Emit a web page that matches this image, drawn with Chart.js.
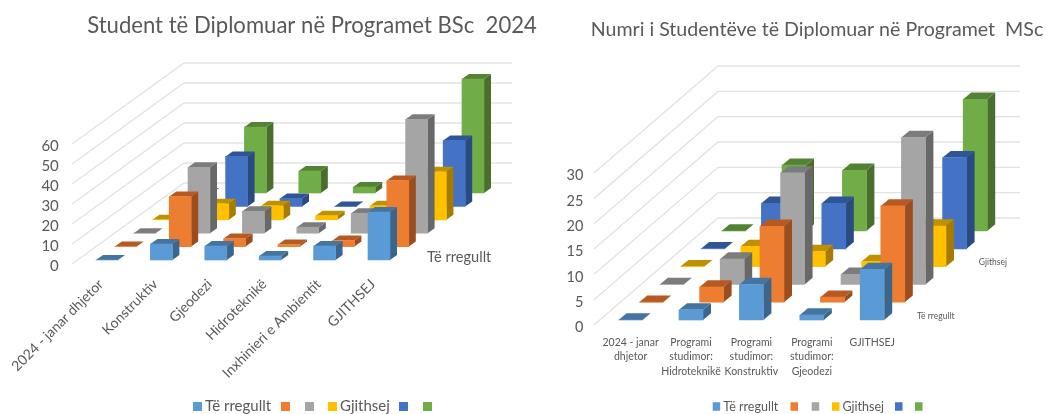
<!DOCTYPE html>
<html><head><meta charset="utf-8">
<style>
html,body{margin:0;padding:0;width:1046px;height:414px;overflow:hidden;background:#fff}
#wrapA,#wrapB{position:absolute;top:0}
</style>
<script src="https://cdn.jsdelivr.net/npm/chart.js@4/dist/chart.umd.min.js"></script>
</head><body>
<div id="wrapA" style="left:0;width:624px;height:414px"><canvas id="a"></canvas></div>
<div id="wrapB" style="left:540px;width:554px;height:414px"><canvas id="b"></canvas></div>
<script>
// Data
const seriesNames = ['Të rregullt','','','Gjithsej','',''];
const bscTitle = 'Student të Diplomuar në Programet BSc  2024';
const bscCategories = ['2024 - janar dhjetor','Konstruktiv','Gjeodezi','Hidroteknikë','Inxhinieri e Ambientit','GJITHSEJ'];
const bscS1 = [0,8,7,2,7,24];
const bscS2 = [0,25,4,1,3,33];
const bscS3 = [0,33,11,3,10,57];
const bscS4 = [0,8,7,2,7,24];
const bscS5 = [0,25,4,0,4,33];
const bscS6 = [0,33,11,3,10,57];
const bscTicks = {max:60, step:10};

const mscTitle = 'Numri i Studentëve të Diplomuar në Programet  MSc';
const mscCategoryLines = [['2024 - janar','dhjetor'],['Programi','studimor:','Hidroteknikë'],['Programi','studimor:','Konstruktiv'],['Programi','studimor:','Gjeodezi'],['GJITHSEJ']];
const mscS1 = [0,2,7,1,10];
const mscS2 = [0,3,15,1,19];
const mscS3 = [0,5,22,2,29];
const mscS4 = [0,4,3,1,8];
const mscS5 = [0,9,9,0,18];
const mscS6 = [0,13,12,1,26];
const mscTicks = {max:30, step:5};

const front = ['#5B9BD5','#ED7D31','#A5A5A5','#FFC000','#4472C4','#70AD47'];
const topC  = ['#44749F','#B65A22','#7C7C7C','#BF9000','#2F5597','#548235'];
const sideC = ['#3B668C','#9A4D1E','#686868','#A67C00','#2A4A82','#4A6E2D'];

const depth3D = {
  id:'depth3D',
  beforeDatasetsDraw(chart,args,o){
    const {ctx,scales:{y}} = chart;
    ctx.save();
    ctx.strokeStyle='#E3E3E3'; ctx.lineWidth=1.4;
    y.ticks.forEach(t=>{
      const py=y.getPixelForValue(t.value);
      ctx.beginPath();
      ctx.moveTo(o.wallX,py);
      ctx.lineTo(o.wallX+o.wallDx,py+o.wallDy);
      ctx.lineTo(o.wallRight,py+o.wallDy);
      ctx.stroke();
    });
    ctx.restore();
  },
  beforeDatasetDraw(chart,{index},o){
    const {ctx}=chart;
    ctx.save();
    ctx.translate(o.stepX*index, o.baseDy+o.stepY*index);
    chart.getDatasetMeta(index).data.forEach(b=>{
      const l=b.x-b.width/2, r=b.x+b.width/2;
      ctx.fillStyle=sideC[index];
      ctx.beginPath();
      ctx.moveTo(r,b.y);ctx.lineTo(r+o.sideX,b.y+o.sideY);
      ctx.lineTo(r+o.sideX,b.base+o.sideY);ctx.lineTo(r,b.base);
      ctx.closePath();ctx.fill();
      ctx.fillStyle=topC[index];
      ctx.beginPath();
      ctx.moveTo(l,b.y);ctx.lineTo(l+o.sideX,b.y+o.sideY);
      ctx.lineTo(r+o.sideX,b.y+o.sideY);ctx.lineTo(r,b.y);
      ctx.closePath();ctx.fill();
    });
  },
  afterDatasetDraw(chart){ chart.ctx.restore(); },
  afterDraw(chart,args,o){
    const {ctx}=chart;
    ctx.save();
    ctx.fillStyle='#595959';
    ctx.font=o.labelFont;
    ctx.textBaseline='middle';
    ctx.textAlign='left';
    o.depthLabels.forEach(i=>{
      ctx.fillText(seriesNames[i], o.labelX+o.stepX*i, o.labelY+o.stepY*i);
    });
    // legend keyed to the datasets
    chart.data.datasets.forEach((d,i)=>{
      const x=o.legendX[i];
      ctx.fillStyle=d.backgroundColor;
      ctx.fillRect(x,o.legendY-o.legendH/2,o.legendW,o.legendH);
      if(d.label){
        ctx.fillStyle='#595959';
        ctx.font=o.legendFont;
        ctx.fillText(d.label,x+o.legendW+o.legendGap,o.legendY);
      }
    });
    ctx.restore();
  }
};

function make(id,title,titleFont,titlePad,cats,rows,ticks,barW,cfg){
  return new Chart(document.getElementById(id),{
    type:'bar',
    plugins:[depth3D],
    data:{labels:cats,datasets:rows.map((r,i)=>({label:seriesNames[i],data:r,backgroundColor:front[i],borderWidth:0,clip:false}))},
    options:{
      responsive:true,maintainAspectRatio:false,animation:false,
      layout:{padding:0},
      datasets:{bar:{grouped:false,barThickness:barW}},
      plugins:{
        tooltip:{enabled:false},
        legend:{display:false},
        title:{display:true,text:title,color:'#595959',font:titleFont,padding:titlePad},
        depth3D:cfg.depth
      },
      scales:{
        x:{grid:{display:false,drawTicks:false},border:{display:false},
           ticks:{color:'#595959',font:cfg.xFont,autoSkip:false,padding:cfg.xPad,labelOffset:cfg.xShift,minRotation:cfg.rot,maxRotation:cfg.rot},
           afterFit(s){s.height=cfg.plotBottomGap;s.paddingLeft=0;s.paddingRight=0;}},
        y:{min:0,max:ticks.max,grid:{display:false,drawTicks:false},border:{display:false},
           ticks:{stepSize:ticks.step,autoSkip:false,color:'#595959',font:cfg.yFont,padding:cfg.yPad,labelOffset:cfg.yShift},
           afterFit(s){s.width=cfg.yWidth;}},
        spacer:{position:'right',display:true,min:0,max:1,grid:{display:false,drawTicks:false},border:{display:false},
           ticks:{display:false},
           afterFit(s){s.width=cfg.padRight;}}
      }
    }
  });
}

make('a',bscTitle,{family:'Lato',size:22.1,weight:'normal'},{top:13,bottom:104.5},bscCategories,[bscS1,bscS2,bscS3,bscS4,bscS5,bscS6],bscTicks,22,{
  padRight:624-406.2,yWidth:79.8,yPad:21,yShift:2,rot:45,xPad:12,xShift:-6,plotBottomGap:414-264,
  xFont:{family:'Lato',size:14},yFont:{family:'Lato',size:15},
  depth:{wallX:72,wallDx:112,wallDy:-81,wallRight:512,stepX:18.8,stepY:-13.4,baseDy:-4,sideX:7,sideY:-5,
         depthLabels:[0],labelFont:'14.6px Lato',labelX:427,labelY:257,
         legendX:[193,281,305,328,399,423],legendY:406.5,legendW:9,legendH:9,legendGap:3,legendFont:'15px Lato'}
});
make('b',mscTitle,{family:'Lato',size:19.6,weight:'normal'},{top:18,bottom:131.5},mscCategoryLines,[mscS1,mscS2,mscS3,mscS4,mscS5,mscS6],mscTicks,24,{
  padRight:554-362.4,yWidth:60.4,yPad:17,yShift:2.5,rot:0,xShift:0,xPad:10,plotBottomGap:414-325,
  xFont:{family:'Lato',size:10.5,lineHeight:1.4},yFont:{family:'Lato',size:14.5},
  depth:{wallX:54,wallDx:124,wallDy:-107,wallRight:480,stepX:20.6,stepY:-17.8,baseDy:-5,sideX:8,sideY:-6.7,
         depthLabels:[0,3],labelFont:'8.5px Lato',labelX:377,labelY:316,
         legendX:[172.7,250.5,271.7,292,355,375],legendY:406.5,legendW:7.5,legendH:8.5,legendGap:3,legendFont:'12.5px Lato'}
});
</script>
</body></html>
